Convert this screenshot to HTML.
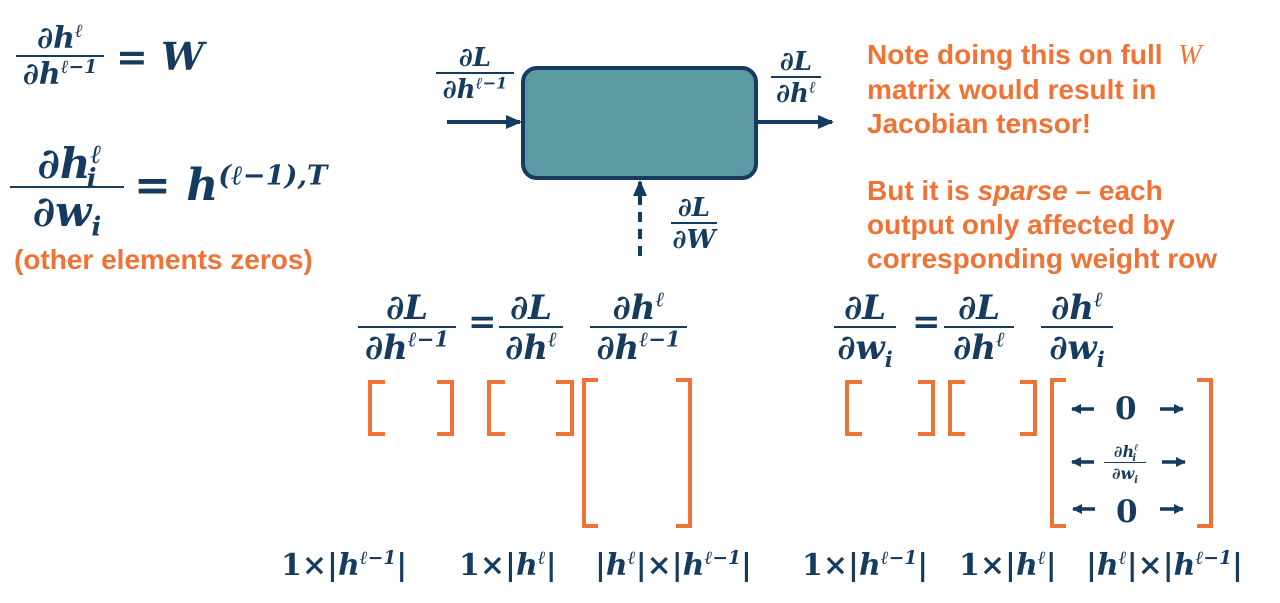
<!DOCTYPE html>
<html><head><meta charset="utf-8">
<style>
body{margin:0;width:1280px;height:603px;background:#fff;position:relative;overflow:hidden;font-family:"Liberation Serif",serif;color:#153b5f}
.m{font-weight:bold;font-style:italic;font-family:"DejaVu Serif","Liberation Serif",serif;color:#153b5f;white-space:nowrap}
.f{position:absolute;height:0;border-top:2px solid #153b5f}
.f .n,.f .d{position:absolute;left:0;width:100%;text-align:center;line-height:1}
.f .n{bottom:3px}
.f .d{top:3px}
sup,sub{font-size:62%;line-height:0}
.a{position:absolute}
.o{position:absolute;font-family:"Liberation Sans",sans-serif;font-weight:bold;color:#f07234;font-size:28px;line-height:34px;white-space:nowrap}
.br{position:absolute;border:4px solid #f07234}
.bl{border-right:none}.bR{border-left:none}
.up{font-style:normal}
</style></head><body>

<!-- top-left -->
<div class="f m" style="left:16px;top:55px;width:88px;font-size:30px"><div class="n">∂h<sup>ℓ</sup></div><div class="d">∂h<sup>ℓ−1</sup></div></div>
<div class="a m" style="left:116px;top:34px;font-size:38px"><span class="up">=</span> W</div>

<div class="f m" style="left:10px;top:186px;width:114px;font-size:42px"><div class="n">∂h<sup>ℓ</sup><sub style="margin-left:-15px">i</sub></div><div class="d">∂w<sub>i</sub></div></div>
<div class="a m" style="left:134px;top:160px;font-size:44px"><span class="up">=</span> h<sup>(ℓ−1),T</sup></div>
<div class="o" style="left:14px;top:243px">(other elements zeros)</div>

<!-- diagram -->
<svg class="a" style="left:0;top:0" width="1280" height="603">
<defs>
<marker id="ah2" markerWidth="16" markerHeight="14" refX="14" refY="7" orient="auto" markerUnits="userSpaceOnUse"><path d="M0,0 L16,7 L0,14z" fill="#153b5f"/></marker>
<marker id="ah3" markerWidth="10" markerHeight="10" refX="9" refY="5" orient="auto" markerUnits="userSpaceOnUse"><path d="M0,0 L10,5 L0,10z" fill="#153b5f"/></marker></defs>
<rect x="523" y="68" width="233" height="110" rx="14" fill="#5b9aa3" stroke="#153b5f" stroke-width="4"/>
<line x1="447" y1="122" x2="520" y2="122" stroke="#153b5f" stroke-width="4" marker-end="url(#ah2)"/>
<line x1="758" y1="122" x2="832" y2="122" stroke="#153b5f" stroke-width="4" marker-end="url(#ah2)"/>
<line x1="640" y1="256" x2="640" y2="182" stroke="#153b5f" stroke-width="4" stroke-dasharray="10,7" marker-end="url(#ah2)"/>
<g stroke="#153b5f" stroke-width="3.5">
<line x1="1094" y1="409" x2="1072" y2="409" marker-end="url(#ah3)"/>
<line x1="1160" y1="409" x2="1183" y2="409" marker-end="url(#ah3)"/>
<line x1="1094" y1="462" x2="1072" y2="462" marker-end="url(#ah3)"/>
<line x1="1162" y1="462" x2="1185" y2="462" marker-end="url(#ah3)"/>
<line x1="1095" y1="509" x2="1073" y2="509" marker-end="url(#ah3)"/>
<line x1="1160" y1="509" x2="1183" y2="509" marker-end="url(#ah3)"/>
</g>
</svg>
<div class="f m" style="left:436px;top:72px;width:78px;font-size:26px"><div class="n">∂L</div><div class="d">∂h<sup>ℓ−1</sup></div></div>
<div class="f m" style="left:771px;top:76px;width:50px;font-size:26px"><div class="n">∂L</div><div class="d">∂h<sup>ℓ</sup></div></div>
<div class="f m" style="left:671px;top:222px;width:46px;font-size:26px"><div class="n">∂L</div><div class="d">∂W</div></div>

<div class="o" style="left:867px;top:38px">Note doing this on full <span style="font-style:italic;font-weight:normal;font-family:'Liberation Serif',serif;margin-left:8px">W</span><br>matrix would result in<br>Jacobian tensor!</div>
<div class="o" style="left:867px;top:174px">But it is <i>sparse</i> – each<br>output only affected by<br>corresponding weight row</div>

<!-- equations -->
<div class="f m" style="left:358px;top:326px;width:98px;font-size:34px"><div class="n">∂L</div><div class="d">∂h<sup>ℓ−1</sup></div></div>
<div class="a m" style="left:468px;top:302px;font-size:34px"><span class="up">=</span></div>
<div class="f m" style="left:499px;top:326px;width:64px;font-size:34px"><div class="n">∂L</div><div class="d">∂h<sup>ℓ</sup></div></div>
<div class="f m" style="left:590px;top:326px;width:97px;font-size:34px"><div class="n">∂h<sup>ℓ</sup></div><div class="d">∂h<sup>ℓ−1</sup></div></div>

<div class="f m" style="left:834px;top:326px;width:62px;font-size:34px"><div class="n">∂L</div><div class="d">∂w<sub>i</sub></div></div>
<div class="a m" style="left:912px;top:302px;font-size:34px"><span class="up">=</span></div>
<div class="f m" style="left:944px;top:326px;width:70px;font-size:34px"><div class="n">∂L</div><div class="d">∂h<sup>ℓ</sup></div></div>
<div class="f m" style="left:1041px;top:326px;width:72px;font-size:34px"><div class="n">∂h<sup>ℓ</sup></div><div class="d">∂w<sub>i</sub></div></div>

<!-- brackets -->
<div class="br bl" style="left:368px;top:380px;width:13px;height:48px"></div>
<div class="br bR" style="left:437px;top:380px;width:13px;height:48px"></div>
<div class="br bl" style="left:487px;top:380px;width:14px;height:48px"></div>
<div class="br bR" style="left:556px;top:380px;width:14px;height:48px"></div>
<div class="br bl" style="left:582px;top:378px;width:12px;height:142px"></div>
<div class="br bR" style="left:676px;top:378px;width:12px;height:142px"></div>

<div class="br bl" style="left:845px;top:380px;width:13px;height:48px"></div>
<div class="br bR" style="left:918px;top:380px;width:13px;height:48px"></div>
<div class="br bl" style="left:948px;top:380px;width:13px;height:48px"></div>
<div class="br bR" style="left:1020px;top:380px;width:13px;height:48px"></div>
<div class="br bl" style="left:1050px;top:378px;width:12px;height:142px"></div>
<div class="br bR" style="left:1197px;top:378px;width:12px;height:142px"></div>

<!-- sparse matrix contents -->
<div class="a m up" style="left:1115px;top:391px;font-size:31px;font-style:normal">0</div>
<div class="f m" style="left:1104px;top:462px;width:42px;font-size:16px;border-top-width:1.5px"><div class="n">∂h<sup>ℓ</sup><sub style="margin-left:-6px">i</sub></div><div class="d">∂w<sub>i</sub></div></div>
<div class="a m up" style="left:1116px;top:494px;font-size:31px;font-style:normal">0</div>

<!-- dims -->
<div class="a m" style="left:281px;top:548px;font-size:30px"><span class="up">1×|</span>h<sup>ℓ−1</sup><span class="up">|</span></div>
<div class="a m" style="left:459px;top:548px;font-size:30px"><span class="up">1×|</span>h<sup>ℓ</sup><span class="up">|</span></div>
<div class="a m" style="left:595px;top:548px;font-size:30px"><span class="up">|</span>h<sup>ℓ</sup><span class="up">|×|</span>h<sup>ℓ−1</sup><span class="up">|</span></div>
<div class="a m" style="left:802px;top:548px;font-size:30px"><span class="up">1×|</span>h<sup>ℓ−1</sup><span class="up">|</span></div>
<div class="a m" style="left:959px;top:548px;font-size:30px"><span class="up">1×|</span>h<sup>ℓ</sup><span class="up">|</span></div>
<div class="a m" style="left:1086px;top:548px;font-size:30px"><span class="up">|</span>h<sup>ℓ</sup><span class="up">|×|</span>h<sup>ℓ−1</sup><span class="up">|</span></div>
</body></html>
